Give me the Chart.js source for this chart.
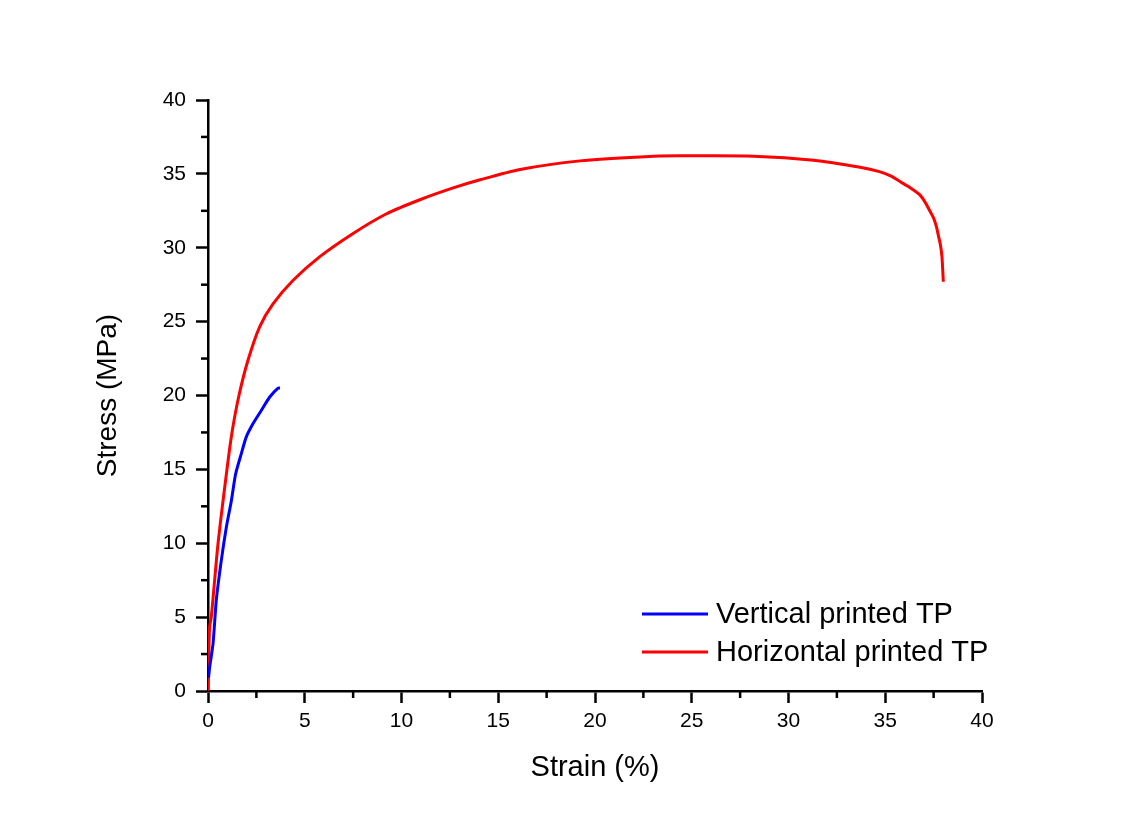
<!DOCTYPE html>
<html>
<head>
<meta charset="utf-8">
<script src="https://cdn.jsdelivr.net/npm/chart.js@4/dist/chart.umd.min.js"></script>
<style>
  body { margin: 0; background: #fff; }
</style>
</head>
<body>
<canvas id="myChart" width="1132" height="818"></canvas>
<script>
// values
const blueStrain = [0.03, 0.09, 0.26, 0.43, 0.69, 0.95, 1.21, 1.43, 1.73, 1.98, 2.33, 2.76, 3.19, 3.62, 3.72]
const blueStress = [0.9, 1.65, 3.2, 6.16, 8.86, 11.1, 12.9, 14.7, 16.1, 17.2, 18.1, 19.0, 19.9, 20.5, 20.5]
const redStrain = [0, 0.08, 0.17, 0.52, 0.98, 1.24, 1.6, 2.07, 2.67, 3.36, 4.4, 5.78, 7.5, 9.23, 10.95, 12.67, 14.06, 16.13, 19.23, 22.33, 24.4, 28.2, 31.3, 33.7, 34.7, 35.3, 35.8, 36.3, 36.8, 37.1, 37.3, 37.5, 37.65, 37.75, 37.85, 37.93, 37.97, 38.0]
const redStress = [0, 4.3, 5.0, 10.0, 15.0, 17.5, 20.0, 22.4, 24.65, 26.2, 27.8, 29.4, 30.97, 32.3, 33.25, 34.05, 34.6, 35.3, 35.88, 36.15, 36.22, 36.2, 35.93, 35.45, 35.15, 34.85, 34.45, 34.05, 33.56, 33.0, 32.5, 32.0, 31.4, 30.8, 30.2, 29.4, 28.5, 27.7]
const seriesNames = ["Vertical printed TP", "Horizontal printed TP"]
const seriesColors = ["#0000ff", "#ff0000"]
const xTitle = "Strain (%)"
const yTitle = "Stress (MPa)"

const FONT = "'Liberation Sans', Arial, sans-serif"

function toPoints(xs, ys) {
  return xs.map((x, i) => ({x: x, y: ys[i]}))
}

// minor ticks (half steps) + legend drawn by hand
const extras = {
  id: 'extras',
  afterDraw(chart) {
    const ctx = chart.ctx
    const xs = chart.scales.x, ys = chart.scales.y
    const area = chart.chartArea
    ctx.save()
    ctx.strokeStyle = '#000'
    ctx.lineWidth = 2.5
    for (let v = 2.5; v < 40; v += 5) {
      let px = xs.getPixelForValue(v)
      ctx.beginPath(); ctx.moveTo(px, area.bottom); ctx.lineTo(px, area.bottom + 7); ctx.stroke()
      let py = ys.getPixelForValue(v)
      ctx.beginPath(); ctx.moveTo(area.left, py); ctx.lineTo(area.left - 7, py); ctx.stroke()
    }
    // legend
    ctx.font = "29px " + FONT
    ctx.textBaseline = 'middle'
    ctx.fillStyle = '#000'
    let lx = area.left + 434, ly = 614
    seriesNames.forEach((name, i) => {
      let y = ly + i * 38
      ctx.strokeStyle = seriesColors[i]
      ctx.lineWidth = 3
      ctx.beginPath(); ctx.moveTo(lx, y); ctx.lineTo(lx + 66, y); ctx.stroke()
      ctx.fillText(name, lx + 74, y + 1)
    })
    ctx.restore()
  }
}

new Chart(document.getElementById('myChart'), {
  type: 'scatter',
  data: {
    datasets: [
      {label: seriesNames[0], data: toPoints(blueStrain, blueStress), showLine: true,
       borderColor: seriesColors[0], borderWidth: 3, pointRadius: 0, tension: 0.25},
      {label: seriesNames[1], data: toPoints(redStrain, redStress), showLine: true,
       borderColor: seriesColors[1], borderWidth: 3, pointRadius: 0, tension: 0.25}
    ]
  },
  options: {
    responsive: false,
    animation: false,
    layout: {padding: {top: 100, right: 150, left: 0, bottom: 0}},
    plugins: {legend: {display: false}, tooltip: {enabled: false}},
    scales: {
      x: {
        type: 'linear', min: 0, max: 40,
        afterFit: s => { s.height = 127 },
        grid: {drawOnChartArea: false, tickLength: 12, tickWidth: 2.5, tickColor: '#000'},
        border: {display: true, color: '#000', width: 2.5},
        ticks: {stepSize: 5, color: '#000', padding: 6, font: {family: FONT, size: 21}},
        title: {display: true, text: xTitle, color: '#000', font: {family: FONT, size: 29},
                padding: {top: 0, bottom: 33}}
      },
      y: {
        type: 'linear', min: 0, max: 40,
        afterFit: s => { s.width = 208 },
        grid: {drawOnChartArea: false, tickLength: 12, tickWidth: 2.5, tickColor: '#000'},
        border: {display: true, color: '#000', width: 2.5},
        ticks: {stepSize: 5, color: '#000', padding: 10, font: {family: FONT, size: 21}},
        title: {display: true, text: yTitle, color: '#000', font: {family: FONT, size: 28},
                padding: {top: 91, bottom: 0}}
      }
    }
  },
  plugins: [extras]
})
</script>
</body>
</html>
